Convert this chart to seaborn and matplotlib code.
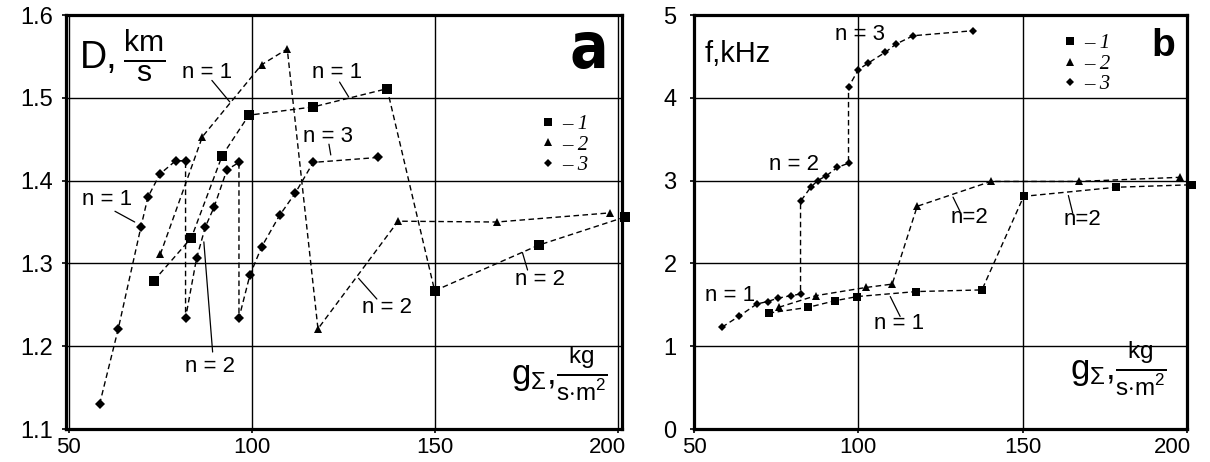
import matplotlib
matplotlib.use("Agg")
import matplotlib.pyplot as plt
import matplotlib.transforms as mtransforms
import seaborn as sns
import pandas as pd
from matplotlib.lines import Line2D

# ---------------- data ----------------
# panel a : D, km/s  vs  g_sigma
a1_x = [73.2, 83.5, 91.9, 99.2, 116.8, 137.0, 150.0, 178.4, 202.0]
a1_y = [1.279, 1.331, 1.430, 1.479, 1.489, 1.511, 1.267, 1.322, 1.356]
a2_x = [75.0, 86.5, 102.7, 109.7, 118.1, 140.0, 167.0, 197.8]
a2_y = [1.311, 1.453, 1.540, 1.559, 1.221, 1.351, 1.350, 1.361]
a3_x = [58.4, 63.5, 69.7, 71.6, 74.9, 79.2, 81.9, 81.9, 84.9, 87.3, 89.7,
        93.2, 96.5, 96.5, 99.5, 102.7, 107.6, 111.9, 116.8, 134.6]
a3_y = [1.130, 1.221, 1.344, 1.380, 1.408, 1.424, 1.424, 1.234, 1.306, 1.344,
        1.368, 1.413, 1.422, 1.234, 1.286, 1.320, 1.358, 1.385, 1.422, 1.428]

# panel b : f, kHz  vs  g_sigma
b1_x = [72.7, 84.8, 93.0, 99.7, 117.6, 137.6, 150.3, 178.5, 201.5]
b1_y = [1.40, 1.47, 1.55, 1.60, 1.66, 1.68, 2.81, 2.92, 2.95]
b2_x = [75.8, 87.0, 102.4, 110.3, 117.9, 140.3, 167.0, 197.9]
b2_y = [1.47, 1.61, 1.71, 1.75, 2.69, 2.99, 2.99, 3.04]
b3_x = [58.5, 63.6, 69.1, 72.4, 75.5, 79.4, 82.4, 82.4, 85.5, 87.6, 90.3,
        93.6, 97.0, 97.0, 100.0, 103.0, 108.2, 111.5, 116.7, 134.8]
b3_y = [1.23, 1.36, 1.51, 1.54, 1.58, 1.61, 1.63, 2.75, 2.92, 3.00, 3.06,
        3.16, 3.21, 4.13, 4.34, 4.42, 4.55, 4.65, 4.75, 4.81]

x_ticks = [50, 100, 150, 200]
a_yticks = [1.1, 1.2, 1.3, 1.4, 1.5, 1.6]
b_yticks = [0, 1, 2, 3, 4, 5]
legend_labels = ["– 1", "– 2", "– 3"]

# annotations: text, text position, leader start, leader end
a_notes = [
    ("n = 1", (87.7, 1.531), (89.1, 1.521), (94.0, 1.495)),
    ("n = 1", (123.2, 1.531), (124.0, 1.519), (126.5, 1.501)),
    ("n = 3", (120.8, 1.453), (121.1, 1.444), (121.6, 1.431)),
    ("n = 1", (60.4, 1.377), (62.6, 1.363), (68.0, 1.350)),
    ("n = 2", (88.5, 1.175), (89.3, 1.193), (86.9, 1.326)),
    ("n = 2", (136.9, 1.247), (134.2, 1.257), (129.2, 1.282)),
    ("n = 2", (178.7, 1.280), (175.4, 1.292), (174.0, 1.313)),
]
b_notes = [
    ("n = 3", (100.6, 4.76), None, None),
    ("n = 2", (80.3, 3.19), None, None),
    ("n = 1", (60.9, 1.61), None, None),
    ("n = 1", (112.4, 1.27), (109.7, 1.60), (112.7, 1.36)),
    ("n=2", (133.9, 2.55), (128.8, 2.80), (130.9, 2.63)),
    ("n=2", (168.2, 2.53), (163.9, 2.82), (165.2, 2.61)),
]

# ---------------- style ----------------
sns.set_theme(style="white")
plt.rcParams["font.family"] = ["Liberation Sans", "DejaVu Sans"]
plt.rcParams["text.color"] = "black"
plt.rcParams["axes.labelcolor"] = "black"
plt.rcParams["xtick.color"] = "black"
plt.rcParams["ytick.color"] = "black"
plt.rcParams["mathtext.fontset"] = "custom"
plt.rcParams["mathtext.rm"] = "Liberation Sans"
plt.rcParams["mathtext.it"] = "Liberation Sans:italic"
plt.rcParams["mathtext.bf"] = "Liberation Sans:bold"

fig = plt.figure(figsize=(12.10, 4.62), dpi=100)
ax_a = fig.add_axes([0.0545, 0.0714, 0.4595, 0.8961])
ax_b = fig.add_axes([0.5736, 0.0714, 0.4074, 0.8961])

DASH = (0, (4, 2.5))


def draw_series(ax, xs, ys, marker, ms):
    df = pd.DataFrame({"x": xs, "y": ys})
    sns.lineplot(data=df, x="x", y="y", sort=False, estimator=None, ax=ax,
                 color="black", marker=marker, markersize=ms,
                 markeredgewidth=0, lw=1.0, clip_on=False, zorder=5)
    ax.lines[-1].set_linestyle(DASH)


def style_axes(ax, xlim, ylim, yticks, ypad, last_shift):
    ax.set_xlim(*xlim)
    ax.set_ylim(*ylim)
    ax.set_xticks(x_ticks)
    ax.set_yticks(yticks)
    if isinstance(yticks[0], float):
        ax.set_yticklabels([f"{v:.1f}" for v in yticks])
    ax.grid(True, color="black", lw=1.0)
    for s in ax.spines.values():
        s.set_visible(True)
        s.set_color("black")
        s.set_linewidth(2.3)
    ax.tick_params(axis="both", direction="out", length=3, width=1.2,
                   colors="black", bottom=True, left=True)
    ax.tick_params(axis="x", pad=2.5, labelsize=16)
    ax.tick_params(axis="y", pad=ypad, labelsize=17)
    ax.set_xlabel("")
    ax.set_ylabel("")
    # the last x label sits a little left of its tick in the reference
    lab = ax.get_xticklabels()[-1]
    lab.set_transform(lab.get_transform() +
                      mtransforms.ScaledTranslation(last_shift / 100, 0,
                                                    fig.dpi_scale_trans))


def notes(ax, items, size):
    for txt, pos, p0, p1 in items:
        ax.text(pos[0], pos[1], txt, fontsize=size, ha="center", va="center",
                color="black", zorder=6)
        if p0 is not None:
            ax.annotate("", xy=p1, xytext=p0,
                        arrowprops=dict(arrowstyle="-", color="black", lw=0.9,
                                        shrinkA=0, shrinkB=0))


def legend(ax, anchor, ms):
    handles = [Line2D([], [], ls="none", marker=m, color="black",
                      markersize=s, markeredgewidth=0)
               for m, s in zip(["s", "^", "D"], ms)]
    ax.legend(handles, legend_labels, loc="upper left", bbox_to_anchor=anchor,
              frameon=False, handlelength=0.6, handletextpad=0.4,
              labelspacing=0.05, borderpad=0, borderaxespad=0,
              prop={"family": "Liberation Serif", "style": "italic", "size": 15})


xlabel = r"$\mathrm{g}_{\Sigma}$,$\frac{\mathrm{kg}}{\mathrm{s{\cdot}m^{2}}}$"

# ---------------- panel a ----------------
draw_series(ax_a, a1_x, a1_y, "s", 6.5)
draw_series(ax_a, a2_x, a2_y, "^", 6.0)
draw_series(ax_a, a3_x, a3_y, "D", 4.6)
style_axes(ax_a, (49.2, 201.2), (1.1, 1.6), a_yticks, 6, -10)
notes(ax_a, a_notes, 16)
legend(ax_a, (0.855, 0.76), [6.0, 6.0, 4.5])
ax_a.text(0.025, 0.895, "D,", transform=ax_a.transAxes, fontsize=27,
          ha="left", va="center")
ax_a.text(0.103, 0.90, r"$\frac{\mathrm{km}}{\mathrm{s}}$",
          transform=ax_a.transAxes, fontsize=31, ha="left", va="center")
ax_a.text(0.975, 0.915, "a", transform=ax_a.transAxes, fontsize=46,
          fontweight="bold", fontstretch="condensed", family="DejaVu Sans",
          ha="right", va="center")
ax_a.text(0.975, 0.135, xlabel, transform=ax_a.transAxes, fontsize=25,
          ha="right", va="center")

# ---------------- panel b ----------------
draw_series(ax_b, b1_x, b1_y, "s", 6.0)
draw_series(ax_b, b2_x, b2_y, "^", 6.0)
draw_series(ax_b, b3_x, b3_y, "D", 4.3)
style_axes(ax_b, (50.0, 199.2), (0, 5), b_yticks, 9.5, -15)
notes(ax_b, b_notes, 16)
legend(ax_b, (0.75, 0.955), [5.5, 5.5, 4.3])
ax_b.text(0.022, 0.905, "f,kHz", transform=ax_b.transAxes, fontsize=21,
          ha="left", va="center")
ax_b.text(0.975, 0.925, "b", transform=ax_b.transAxes, fontsize=28,
          fontweight="bold", ha="right", va="center")
ax_b.text(0.96, 0.145, xlabel, transform=ax_b.transAxes, fontsize=25,
          ha="right", va="center")

fig.savefig("out.png", dpi=100)
